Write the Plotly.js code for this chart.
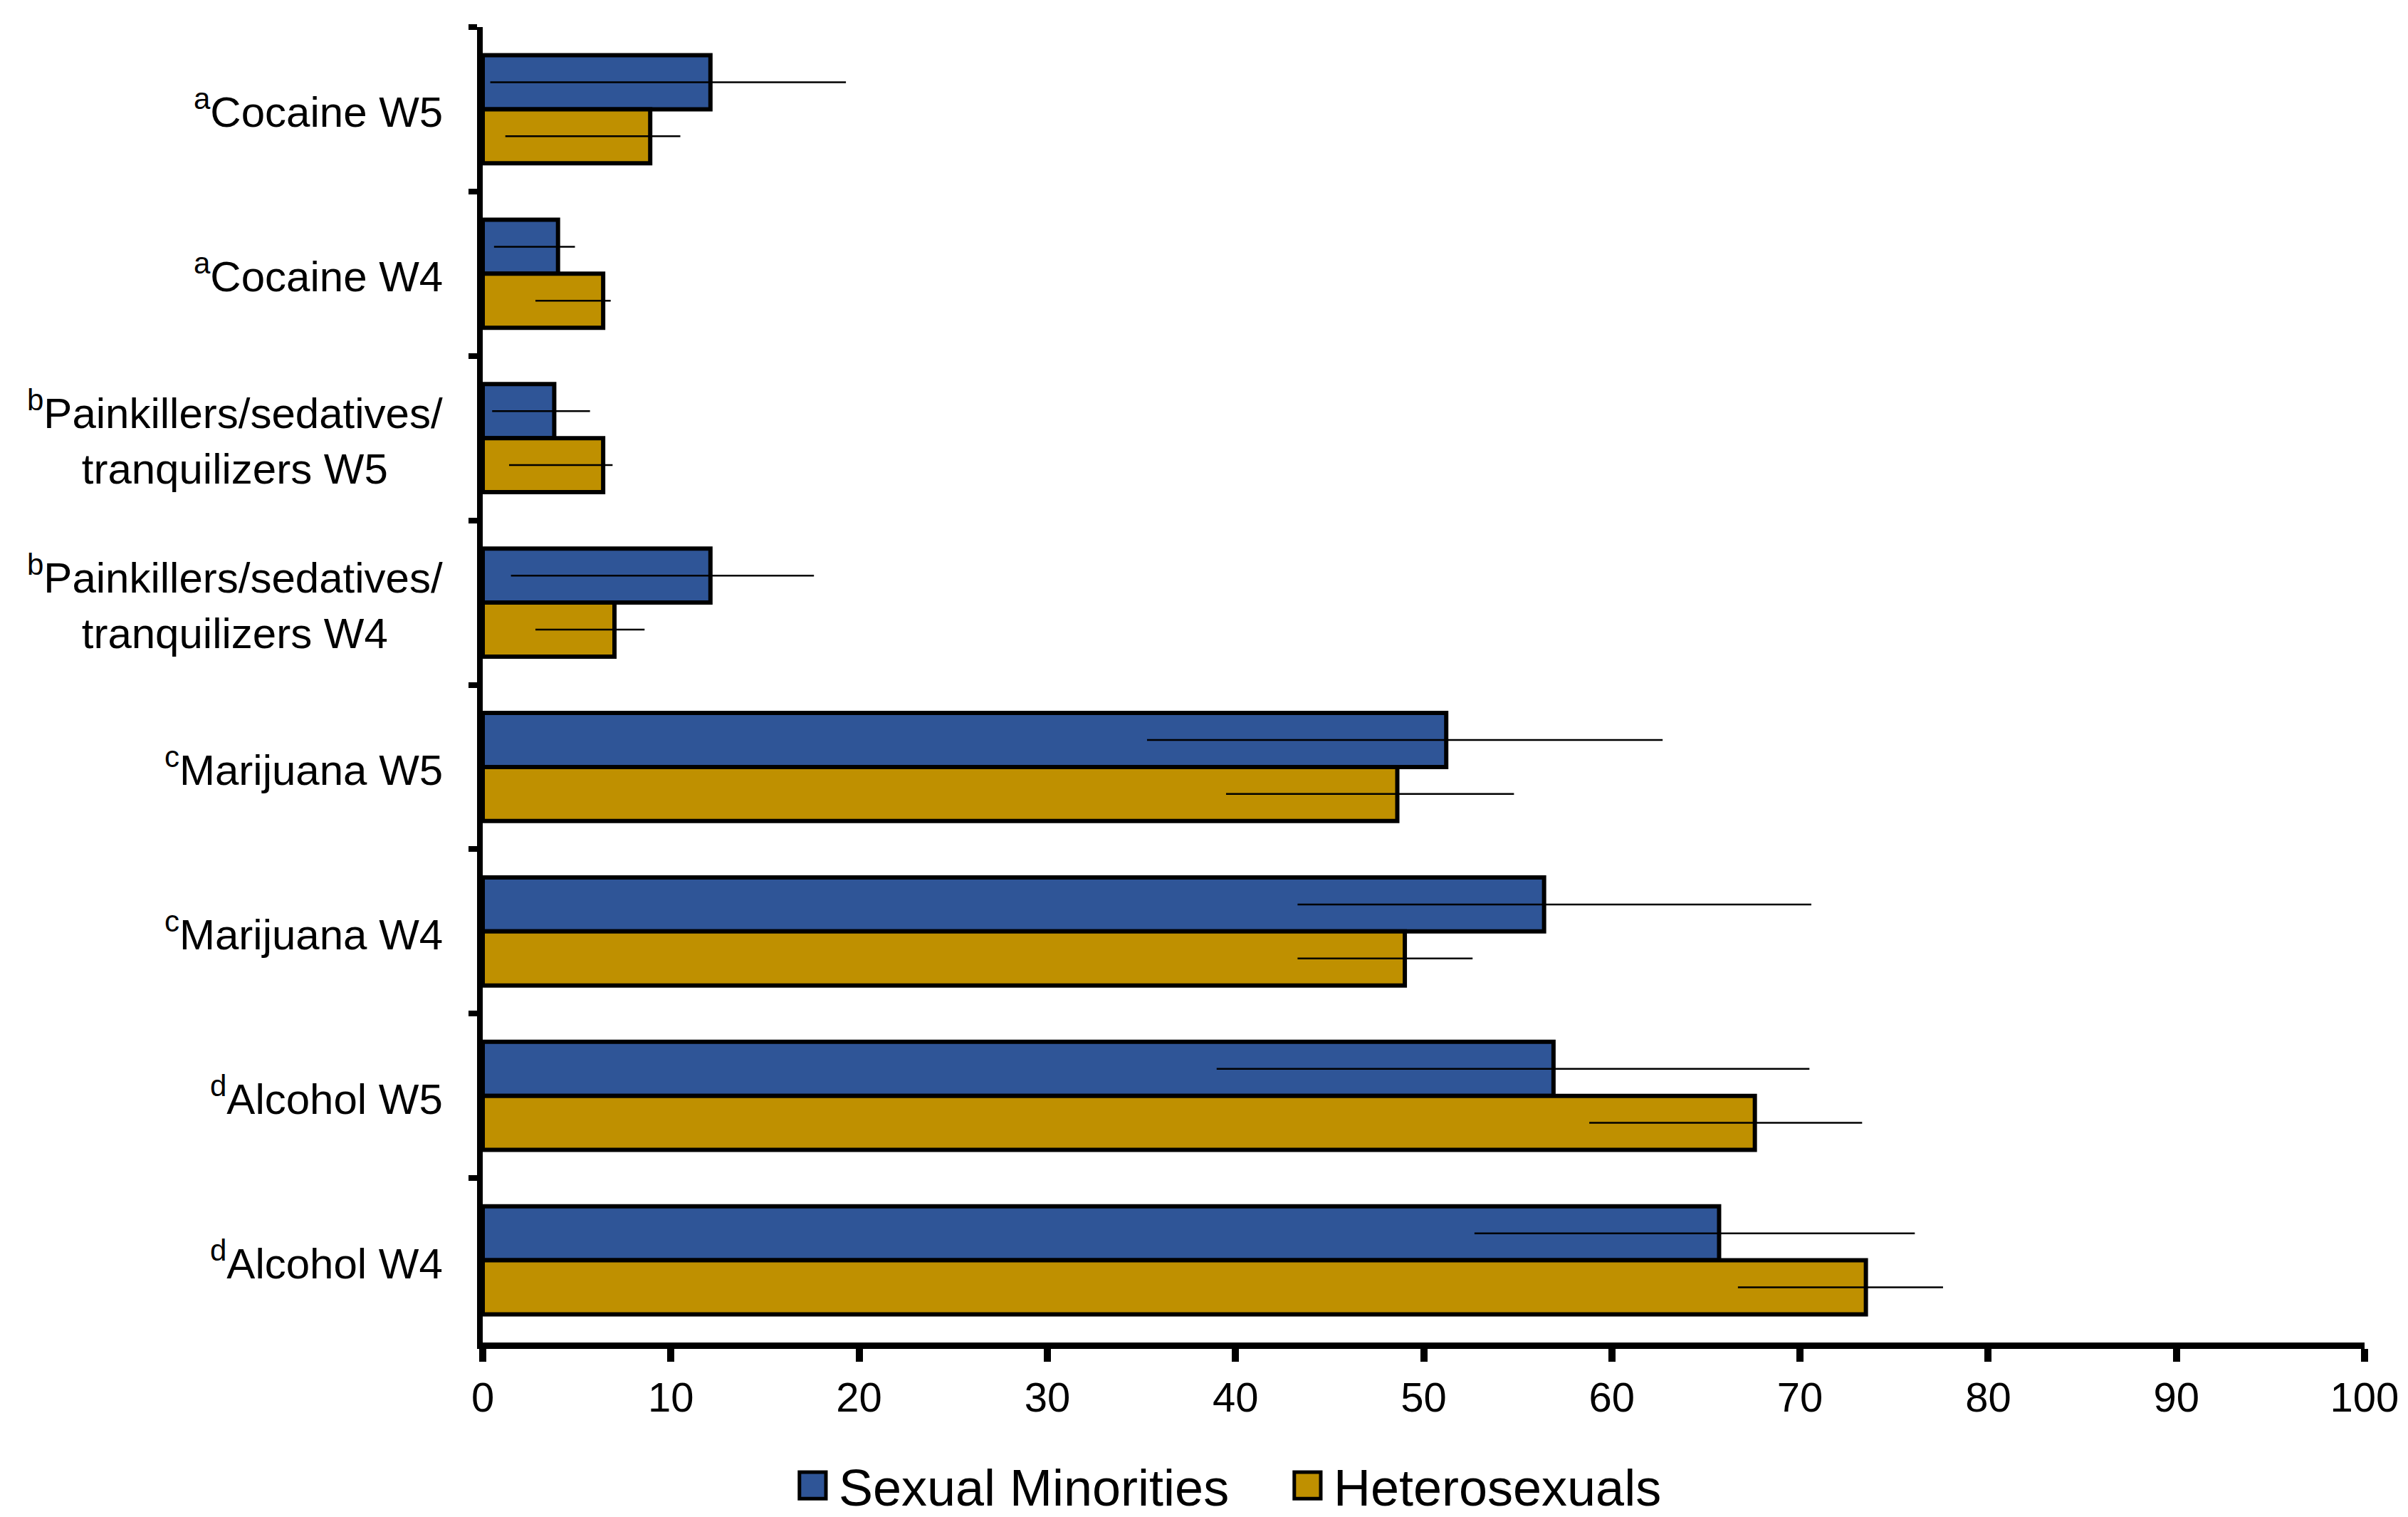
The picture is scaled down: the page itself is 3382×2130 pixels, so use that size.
<!DOCTYPE html>
<html><head><meta charset="utf-8">
<script src="https://cdn.plot.ly/plotly-3.0.1.min.js"></script>
<style>html,body{margin:0;padding:0;background:#fff}#chart{width:3382px;height:2130px}</style>
</head><body><div id="chart"></div>
<script>
// Categories top to bottom
const categories = [
  'Cocaine W5',
  'Cocaine W4',
  'Painkillers/sedatives/<br>tranquilizers W5',
  'Painkillers/sedatives/<br>tranquilizers W4',
  'Marijuana W5',
  'Marijuana W4',
  'Alcohol W5',
  'Alcohol W4'
];
const notes = ['a', 'a', 'b', 'b', 'c', 'c', 'd', 'd'];
const xTicks = [0, 10, 20, 30, 40, 50, 60, 70, 80, 90, 100];

// Sexual Minorities: estimate, lower CI, upper CI
const smVal = [12.1, 4.0, 3.8, 12.1, 51.2, 56.4, 56.9, 65.7];
const smLo  = [0.4, 0.6, 0.5, 1.5, 35.3, 43.3, 39.0, 52.7];
const smHi  = [19.3, 4.9, 5.7, 17.6, 62.7, 70.6, 70.5, 76.1];

// Heterosexuals: estimate, lower CI, upper CI
const hetVal = [8.9, 6.4, 6.4, 7.0, 48.6, 49.0, 67.6, 73.5];
const hetLo  = [1.2, 2.8, 1.4, 2.8, 39.5, 43.3, 58.8, 66.7];
const hetHi  = [10.5, 6.8, 6.9, 8.6, 54.8, 52.6, 73.3, 77.6];

const FONT = '"Liberation Sans", Arial, sans-serif';
function diff(a, b) { return a.map((v, i) => +(v - b[i]).toFixed(3)); }

const traces = [
  {
    type: 'bar', orientation: 'h', name: 'Sexual Minorities',
    y: categories, x: smVal,
    marker: {color: '#2F5597', line: {color: '#000000', width: 6}},
    error_x: {type: 'data', symmetric: false, array: diff(smHi, smVal), arrayminus: diff(smVal, smLo),
              color: '#000000', thickness: 2.5, width: 0},
    hoverinfo: 'x+y'
  },
  {
    type: 'bar', orientation: 'h', name: 'Heterosexuals',
    y: categories, x: hetVal,
    marker: {color: '#BF9000', line: {color: '#000000', width: 6}},
    error_x: {type: 'data', symmetric: false, array: diff(hetHi, hetVal), arrayminus: diff(hetVal, hetLo),
              color: '#000000', thickness: 2.5, width: 0},
    hoverinfo: 'x+y'
  }
];

const annotations = categories.map((c, i) => ({
  xref: 'paper', yref: 'y', x: 0, y: c, xanchor: 'right', yanchor: 'middle',
  xshift: -54, align: 'center', showarrow: false,
  text: '<sup><span style="font-size:42px">' + notes[i] + '</span></sup>' + c,
  font: {family: FONT, size: 60, color: '#000000'}
}));

const layout = {
  width: 3382, height: 2130,
  margin: {l: 678, r: 61, t: 38, b: 245},
  paper_bgcolor: '#ffffff', plot_bgcolor: '#ffffff',
  barmode: 'group', bargap: 0.343, bargroupgap: 0,
  font: {family: FONT, color: '#000000'},
  showlegend: true,
  xaxis: {
    range: [0, 100], tickvals: xTicks, ticktext: xTicks.map(String),
    showgrid: false, zeroline: false, showline: true, linecolor: '#000000', linewidth: 9,
    ticks: 'outside', ticklen: 18, tickwidth: 10, tickcolor: '#000000',
    tickfont: {family: FONT, size: 58, color: '#000000'}, fixedrange: true
  },
  yaxis: {
    type: 'category', categoryorder: 'array', categoryarray: categories, autorange: 'reversed',
    showgrid: false, zeroline: false, showline: true, linecolor: '#000000', linewidth: 8,
    ticks: 'outside', tickson: 'boundaries', ticklen: 12, tickwidth: 8, tickcolor: '#000000',
    showticklabels: false, fixedrange: true
  },
  legend: {
    orientation: 'h', xref: 'container', yref: 'container',
    x: 0.3267, xanchor: 'left', y: 0.0207, yanchor: 'middle',
    font: {family: FONT, size: 72, color: '#000000'},
    itemwidth: 63, entrywidth: 617, bgcolor: 'rgba(0,0,0,0)', borderwidth: 0
  },
  annotations: annotations
};

Plotly.newPlot('chart', traces, layout, {displayModeBar: false, responsive: false}).then(function (gd) {
  gd.querySelectorAll('.legend .legendpoints path').forEach(function (p) {
    p.setAttribute('transform', 'translate(36.5,0) scale(3.1)');
    p.style.vectorEffect = 'non-scaling-stroke';
    p.style.strokeWidth = '5px';
  });
});
</script>
</body></html>
